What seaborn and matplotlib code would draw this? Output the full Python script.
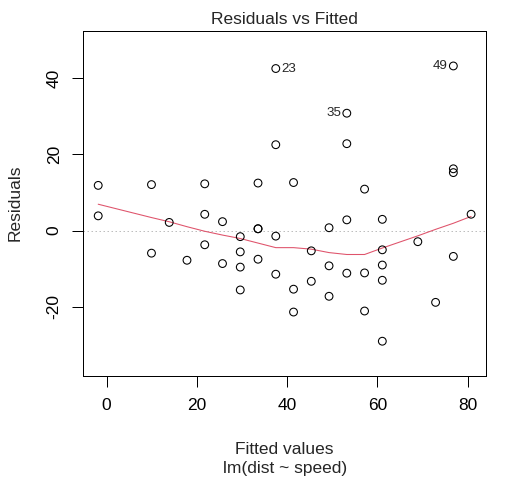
import matplotlib
matplotlib.use("Agg")
import matplotlib.pyplot as plt
import seaborn as sns
import pandas as pd

# Residuals vs Fitted for lm(dist ~ speed) on the cars data
fitted = [-1.849, -1.849, 9.948, 9.948, 13.880, 17.813, 21.745, 21.745, 21.745,
          25.677, 25.677, 29.610, 29.610, 29.610, 29.610, 33.542, 33.542, 33.542,
          33.542, 37.475, 37.475, 37.475, 37.475, 41.407, 41.407, 41.407, 45.339,
          45.339, 49.272, 49.272, 49.272, 53.204, 53.204, 53.204, 53.204, 57.137,
          57.137, 57.137, 61.069, 61.069, 61.069, 61.069, 61.069, 68.934, 72.866,
          76.799, 76.799, 76.799, 76.799, 80.731]
residuals = [3.849, 11.849, -5.948, 12.052, 2.120, -7.813, -3.745, 4.255, 12.255,
             -8.677, 2.323, -15.610, -9.610, -5.610, -1.610, -7.542, 0.458, 0.458,
             12.458, -11.475, -1.475, 22.525, 42.525, -21.407, -15.407, 12.593,
             -13.339, -5.339, -17.272, -9.272, 0.728, -11.204, 2.796, 22.796,
             30.796, -21.137, -11.137, 10.863, -29.069, -13.069, -9.069, -5.069,
             2.931, -2.934, -18.866, -6.799, 15.201, 16.201, 43.201, 4.269]

# smoother through the residuals
smooth_x = [-1.849, 9.948, 13.880, 17.813, 21.745, 25.677, 29.610, 33.542, 37.475,
            41.407, 45.339, 49.272, 53.204, 57.137, 61.069, 68.934, 72.866, 76.799,
            80.731]
smooth_y = [6.9, 3.4, 2.3, 1.0, -0.2, -1.2, -2.1, -3.3, -4.5, -4.5, -4.9, -5.8,
            -6.3, -6.3, -4.6, -1.4, 0.3, 1.9, 3.7]

# the three largest residuals get their row number
labelled = [23, 35, 49]

df = pd.DataFrame({"fitted": fitted, "resid": residuals})

sns.set_style("white")
plt.rcParams['font.family'] = ['Liberation Sans', 'DejaVu Sans']
plt.rcParams['axes.unicode_minus'] = False

W, H = 529, 481
fig = plt.figure(figsize=(W / 96, H / 96), dpi=96)
ax = fig.add_axes([83.3 / W, 1 - 376 / H, (486 - 83.3) / W, (376 - 31.3) / H])

ax.axhline(0, color='#BEBEBE', linestyle=(0, (1.5, 2.5)), linewidth=0.75, zorder=1)
sns.scatterplot(data=df, x="fitted", y="resid", ax=ax, marker='o', s=34,
                facecolors='none', edgecolor='black', linewidth=0.8, zorder=3)
sns.lineplot(x=smooth_x, y=smooth_y, ax=ax, sort=False, estimator=None,
             color='#DF536B', linewidth=0.8, zorder=2)

for idx in labelled:
    fx, r = fitted[idx - 1], residuals[idx - 1]
    if idx == 23:
        off, ha = (4, 0), 'left'
    else:
        off, ha = (-4, 0), 'right'
    ax.annotate(str(idx), (fx, r), xytext=off, textcoords='offset points',
                ha=ha, va='center', fontsize=10)

ax.set_xlim(-5.15, 84.03)
ax.set_ylim(-38.2, 52.3)
ax.set_xticks([0, 20, 40, 60, 80])
ax.set_yticks([-20, 0, 20, 40])
ax.tick_params(bottom=True, left=True, direction='out', length=8.25, width=0.75,
               pad=8, labelsize=13, colors='black')
plt.setp(ax.get_yticklabels(), rotation=90, va='center')
for sp in ax.spines.values():
    sp.set_color('black')
    sp.set_linewidth(0.75)

ax.set_xlabel("")
ax.set_ylabel("")
ax.set_title("Residuals vs Fitted", fontsize=13, pad=5.7)
fig.text((83.3 + 486) / 2 / W, 1 - 449 / H, "Fitted values", ha='center', va='center', fontsize=13)
fig.text((83.3 + 486) / 2 / W, 1 - 468 / H, "lm(dist ~ speed)", ha='center', va='center', fontsize=13)
fig.text(15 / W, 1 - 203 / H, "Residuals", rotation=90, ha='center', va='center', fontsize=13)

fig.savefig("out.png", dpi=96)
